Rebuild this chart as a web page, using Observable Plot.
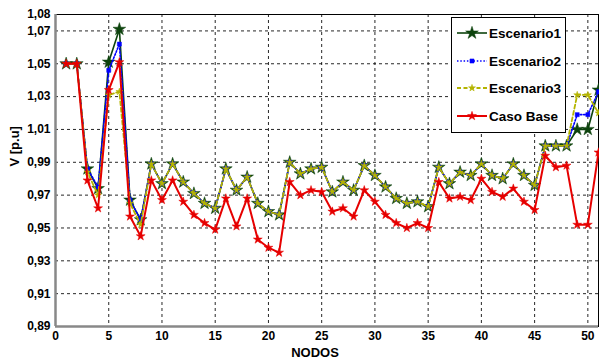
<!DOCTYPE html>
<html><head><meta charset="utf-8">
<script src="https://cdn.jsdelivr.net/npm/d3@7"></script>
<script src="https://cdn.jsdelivr.net/npm/@observablehq/plot@0.6"></script>
<style>
body{margin:0;background:#fff;}
#wrap{position:relative;width:599px;height:361px;font-family:"Liberation Sans",Arial,sans-serif;}
#wrap svg{display:block;}
#legend{position:absolute;left:0;top:0;pointer-events:none;}
</style>
</head><body><div id="wrap"></div>
<script>
const nodos = d3.range(1, 52);
const escenario1 = [1.05,1.05,0.986,0.974,1.051,1.071,0.967,0.955,0.989,0.977,
  0.989,0.978,0.971,0.965,0.962,0.986,0.973,0.981,0.965,0.960,
  0.958,0.990,0.983,0.986,0.987,0.972,0.978,0.973,0.988,0.982,
  0.975,0.968,0.965,0.966,0.963,0.987,0.977,0.984,0.982,0.989,
  0.982,0.980,0.989,0.982,0.976,1.000,1.000,1.000,1.010,1.010,1.034];
const escenario2 = [1.05,1.05,0.986,0.975,1.046,1.062,0.967,0.955,0.989,0.977,
  0.989,0.978,0.971,0.965,0.962,0.986,0.973,0.981,0.965,0.960,
  0.958,0.990,0.983,0.986,0.987,0.972,0.978,0.973,0.988,0.982,
  0.975,0.968,0.965,0.966,0.963,0.987,0.977,0.984,0.982,0.989,
  0.982,0.980,0.989,0.982,0.976,1.000,1.000,1.000,1.019,1.019,1.033];
const escenario3 = [1.05,1.05,0.984,0.970,1.031,1.033,0.965,0.952,0.989,0.977,
  0.989,0.978,0.971,0.965,0.962,0.986,0.973,0.981,0.965,0.960,
  0.958,0.990,0.983,0.986,0.987,0.972,0.978,0.973,0.988,0.982,
  0.975,0.968,0.965,0.966,0.963,0.987,0.977,0.984,0.982,0.989,
  0.982,0.980,0.989,0.982,0.976,1.000,1.000,1.000,1.031,1.031,1.020];
const casoBase = [1.05,1.05,0.979,0.962,1.034,1.051,0.957,0.945,0.979,0.967,
  0.979,0.966,0.958,0.953,0.949,0.968,0.951,0.968,0.943,0.938,
  0.935,0.978,0.970,0.973,0.972,0.960,0.962,0.957,0.973,0.966,
  0.958,0.953,0.950,0.953,0.950,0.978,0.968,0.969,0.967,0.980,
  0.972,0.969,0.974,0.966,0.961,0.994,0.987,0.988,0.952,0.952,0.996];
const yTicks = [0.89,0.91,0.93,0.95,0.97,0.99,1.01,1.03,1.05,1.07,1.08];
const xTicks = [0,5,10,15,20,25,30,35,40,45,50];
const seriesNames = ["Escenario1","Escenario2","Escenario3","Caso Base"];

const styles = {
  "Escenario1": {color:"#0d430d", dash:null, width:1.6, symbol:"star", r:4},
  "Escenario2": {color:"#0000ff", dash:"1.5,1.8", width:1.6, symbol:"square", r:2.3},
  "Escenario3": {color:"#b4b400", dash:"4,2.5", width:1.8, symbol:"star", r:2.2},
  "Caso Base": {color:"#e60000", dash:null, width:2, symbol:"star", r:2.8}
};
const values = [escenario1, escenario2, escenario3, casoBase];
const rows = seriesNames.map((s, i) => nodos.map((n, j) => ({serie: s, nodo: n, v: values[i][j]})));

const fmt = d => d3.format(".2f")(d).replace(".", ",");

const marks = [
  Plot.gridY(yTicks.filter(t => t > 0.89 && t < 1.08), {stroke:"#000", strokeOpacity:0.85, strokeDasharray:"3,3"}),
  Plot.gridX(xTicks.filter(t => t > 0), {stroke:"#000", strokeOpacity:0.85, strokeDasharray:"3,3"}),
  Plot.frame({stroke:"#000", strokeWidth:1})
];
rows.forEach((data, i) => {
  const st = styles[seriesNames[i]];
  marks.push(Plot.line(data, {x:"nodo", y:"v", stroke:st.color, strokeWidth:st.width, strokeDasharray:st.dash}));
  marks.push(Plot.dot(data, {x:"nodo", y:"v", symbol:st.symbol, r:st.r, fill:st.color, stroke:st.color, strokeWidth:0.5}));
});
marks.push(Plot.ruleX([0], {stroke:"#888", strokeWidth:2.5}));
marks.push(Plot.ruleY([0.89], {stroke:"#888", strokeWidth:2.5}));
marks.push(Plot.axisY(yTicks, {tickFormat:fmt, tickSize:0, tickPadding:5, label:null, fontWeight:"bold", fontSize:12}));
marks.push(Plot.axisX(xTicks, {tickFormat:d => String(d), tickSize:0, tickPadding:5, label:null, fontWeight:"bold", fontSize:12}));
marks.push(Plot.text(["NODOS"], {frameAnchor:"bottom", lineAnchor:"middle", dy:26, dx:-12, fontWeight:"bold", fontSize:13, fill:"#000"}));
marks.push(Plot.text(["V [p.u]"], {frameAnchor:"left", rotate:-90, dx:-41, dy:-4, fontWeight:"bold", fontSize:13, fill:"#000"}));

const chart = Plot.plot({
  width: 599, height: 361,
  marginLeft: 55, marginRight: 1, marginTop: 14, marginBottom: 35,
  style: {fontFamily:"'Liberation Sans', Arial, sans-serif", color:"#000", background:"#fff", overflow:"visible"},
  x: {domain:[0,51]},
  y: {domain:[0.89,1.08]},
  marks
});
document.getElementById("wrap").appendChild(chart);

// Legend overlay
const lg = d3.select("#wrap").append("svg").attr("id","legend").attr("width",599).attr("height",361);
lg.append("rect").attr("x",451.5).attr("y",17.5).attr("width",114).attr("height",115)
  .attr("fill","#fff").attr("stroke","#000").attr("stroke-width",1);
const ys = [33, 61, 88, 116];
const symMap = {star: d3.symbolStar, square: d3.symbolSquare};
seriesNames.forEach((s, i) => {
  const st = styles[s];
  const g = lg.append("g");
  g.append("line").attr("x1",457).attr("x2",487).attr("y1",ys[i]).attr("y2",ys[i])
    .attr("stroke",st.color).attr("stroke-width",st.width).attr("stroke-dasharray",st.dash);
  const area = Math.PI * st.r * st.r;
  g.append("path").attr("transform",`translate(472,${ys[i]})`)
    .attr("d", d3.symbol(symMap[st.symbol], area)())
    .attr("fill",st.color).attr("stroke",st.color).attr("stroke-width",0.5);
  g.append("text").attr("x",489).attr("y",ys[i]).attr("dy","0.36em")
    .attr("font-family","'Liberation Sans', Arial, sans-serif").attr("font-weight","bold")
    .attr("font-size",13.5).attr("fill","#000").text(s);
});
</script>
</body></html>
